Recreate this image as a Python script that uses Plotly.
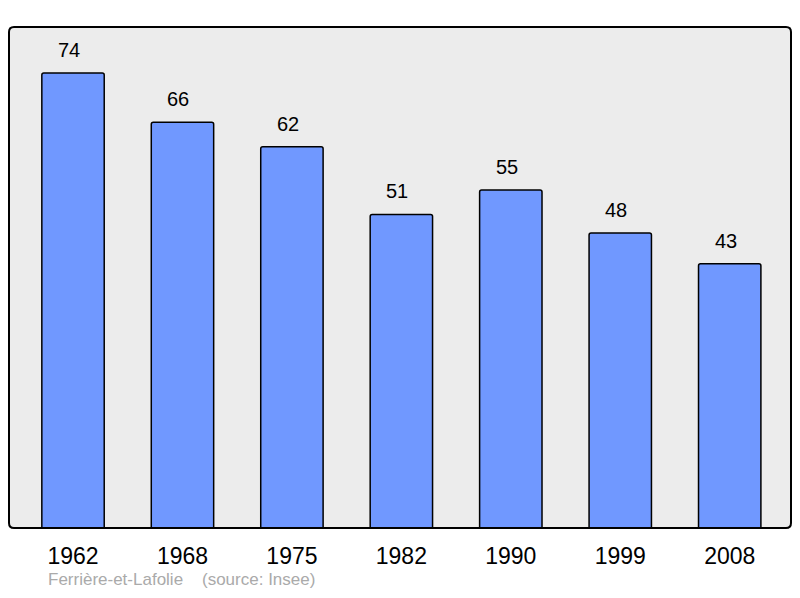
import plotly.graph_objects as go

years = ["1962", "1968", "1975", "1982", "1990", "1999", "2008"]
population = [74, 66, 62, 51, 55, 48, 43]

fig = go.Figure()
fig.add_bar(x=years, y=population, width=0.57,
            marker=dict(color="#7098ff", line=dict(color="#000000", width=1.5), cornerradius=2))

# value labels above bars (category index positions)
for i, val in enumerate(population):
    fig.add_annotation(x=i, y=val, text=str(val), showarrow=False, yanchor="bottom", yshift=10, xshift=-4,
                       font=dict(family="Liberation Sans", size=20, color="#000000"))

# frame around plot area, slightly rounded corners
rx, ry = 5 / 782, 5 / 501
frame = (f"M {rx},0 L {1-rx},0 Q 1,0 1,{ry} L 1,{1-ry} Q 1,1 {1-rx},1 "
         f"L {rx},1 Q 0,1 0,{1-ry} L 0,{ry} Q 0,0 {rx},0 Z")
fig.add_shape(type="path", path=frame, xref="paper", yref="paper",
              line=dict(color="#000000", width=2), layer="above")

fig.add_annotation(xref="paper", yref="paper", x=0.048, y=-0.1238, xanchor="left", yanchor="bottom",
                   text="Ferrière-et-Lafolie&nbsp;&nbsp;&nbsp;&nbsp;(source: Insee)", showarrow=False,
                   borderpad=0, font=dict(family="Liberation Sans", size=17, color="#aaaaaa"))

# page body adds 8px margin, so the figure is 16px smaller
fig.update_layout(
    width=784, height=582,
    margin=dict(l=1, r=1, t=19, b=62),
    plot_bgcolor="#ececec", paper_bgcolor="#ffffff",
    showlegend=False,
)
fig.update_xaxes(type="category", range=[-0.585, 6.56], showgrid=False, zeroline=False, ticks="",
                 tickfont=dict(family="Liberation Sans", size=23, color="#000000"), ticklabelstandoff=12)
fig.update_yaxes(range=[0, 81.5], showgrid=False, zeroline=False, showticklabels=False)

fig.write_html("out.html")
